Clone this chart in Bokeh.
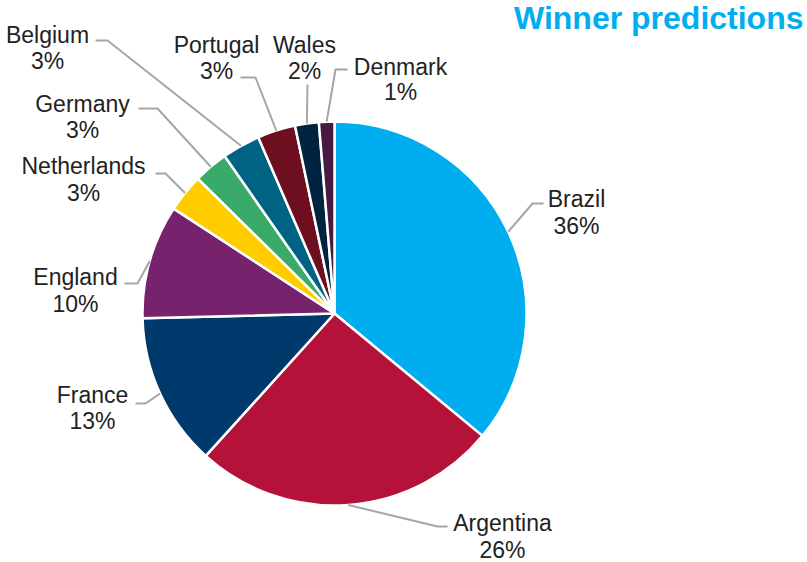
import math
from bokeh.plotting import figure
from bokeh.models import Range1d
from bokeh.core.properties import value
from bokeh.embed import file_html
from bokeh.resources import INLINE

# ---- data ----
countries = ["Brazil", "Argentina", "France", "England", "Netherlands",
             "Germany", "Belgium", "Portugal", "Wales", "Denmark"]
shares = [36.0, 25.7, 12.9, 9.6, 3.2, 2.9, 3.2, 3.2, 2.0, 1.3]
colors = ["#00AEEF", "#B5123A", "#003A6C", "#76226C", "#FFCC00",
          "#3AAA6A", "#006384", "#6E0F1F", "#00243F", "#4A1942"]
title_text = "Winner predictions"

# ---- layout (image pixel coordinates, y downward) ----
W, H = 807, 562
CX, CY, R = 334, 313, 192
# label: centre x, baseline of name, baseline of percentage
label_pos = [(576, 206, 233), (502, 530, 557), (92, 402, 428), (75, 284, 311),
             (83, 173, 200), (82, 111, 137), (47, 42, 68), (216, 52, 78),
             (304, 52, 78), (400, 74, 99)]
# leader line elbow and end points
leader_pts = [((532, 203), (543, 203)), ((437, 526), (447, 526)),
              ((145, 403), (135, 403)), ((137, 283), (124, 283)),
              ((165, 173), (155, 173)), ((157, 108), (138, 108)),
              ((107, 40), (95, 40)), ((255, 77), (240, 77)),
              ((307, 84), (307, 84)), ((335, 69), (347, 69))]
CAP_MID = 8  # offset from baseline to middle of capitals (23px font)


def fy(y):
    return H - y


p = figure(width=W, height=H, output_backend="svg",
           toolbar_location=None, x_range=Range1d(0, W),
           y_range=Range1d(0, H), min_border=0)
p.axis.visible = False
p.grid.visible = False
p.outline_line_color = None
p.background_fill_color = "white"

total = sum(shares)
starts, ends, mids = [], [], []
cum = 0.0
for s in shares:
    f0 = cum / total
    cum += s
    f1 = cum / total
    starts.append(math.pi / 2 - 2 * math.pi * f0)
    ends.append(math.pi / 2 - 2 * math.pi * f1)
    mids.append((f0 + f1) / 2)

p.wedge(x=[CX] * len(shares), y=[fy(CY)] * len(shares), radius=R,
        start_angle=starts, end_angle=ends, direction="clock",
        fill_color=colors, line_color="white", line_width=2.5)

# leader lines
xs, ys = [], []
for m, (el, en) in zip(mids, leader_pts):
    a = 2 * math.pi * m
    sx = CX + R * math.sin(a)
    sy = CY - R * math.cos(a)
    xs.append([sx, el[0], en[0]])
    ys.append([fy(sy), fy(el[1]), fy(en[1])])
p.multi_line(xs=xs, ys=ys, line_color="#A6A6A6", line_width=2)

pct_labels = ["%d%%" % round(s * 100 / total) for s in shares]
font = value("Liberation Sans")
p.text(x=[lp[0] for lp in label_pos], y=[fy(lp[1] - CAP_MID) for lp in label_pos],
       text=countries, text_align="center", text_baseline="middle",
       text_font=font, text_font_size="23px", text_color="#222222")
p.text(x=[lp[0] for lp in label_pos], y=[fy(lp[2] - CAP_MID) for lp in label_pos],
       text=pct_labels, text_align="center", text_baseline="middle",
       text_font=font, text_font_size="23px", text_color="#222222")

p.text(x=[803], y=[fy(17)], text=[title_text], text_align="right",
       text_baseline="middle", text_font=font, text_font_size="32px",
       text_font_style="bold", text_color="#00AEEF")

open("out.html", "w").write(file_html(p, INLINE))
